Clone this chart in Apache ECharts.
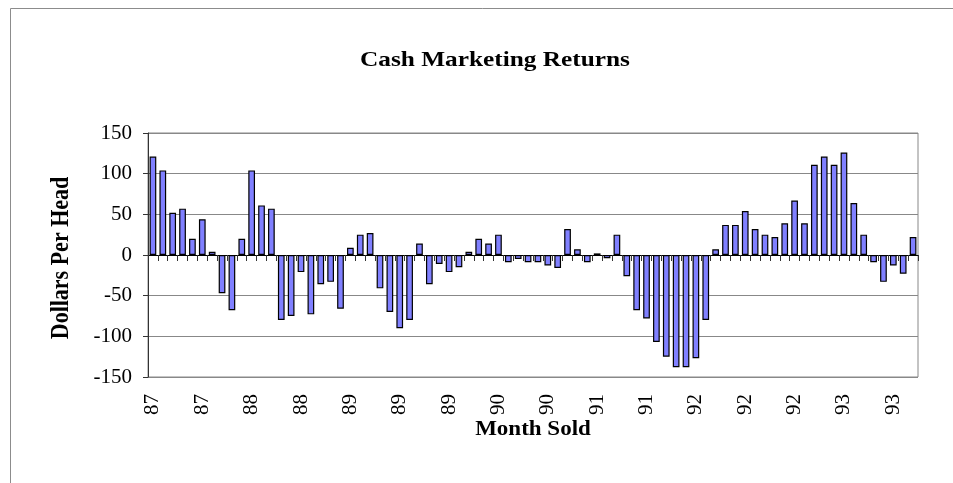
<!DOCTYPE html>
<html>
<head>
<meta charset="utf-8">
<script src="https://cdn.jsdelivr.net/npm/echarts@6/dist/echarts.min.js"></script>
<style>html,body{margin:0;padding:0;background:#fff;}#c{width:953px;height:483px;}</style>
</head>
<body>
<div id="c"></div>
<script>
var titleText = 'Cash Marketing Returns';
var xName = 'Month Sold';
var yName = 'Dollars Per Head';
// Month sold, June 1987 .. November 1993 (two-digit year shown)
var categories = [
 '87','87','87','87','87','87','87',
 '88','88','88','88','88','88','88','88','88','88','88','88',
 '89','89','89','89','89','89','89','89','89','89','89','89',
 '90','90','90','90','90','90','90','90','90','90','90','90',
 '91','91','91','91','91','91','91','91','91','91','91','91',
 '92','92','92','92','92','92','92','92','92','92','92','92',
 '93','93','93','93','93','93','93','93','93','93','93'
];
var returns = [
 121,104,52,57,20,44,4,-47,-68,20,
 104,61,57,-80,-75,-21,-73,-36,-33,-66,
 9,25,27,-41,-70,-90,-80,14,-36,-11,
 -21,-15,4,20,14,25,-9,-5,-9,-9,
 -13,-16,32,7,-9,2,-4,25,-26,-68,
 -78,-107,-125,-138,-138,-127,-80,7,37,37,
 54,32,25,22,39,67,39,111,121,111,
 126,64,25,-9,-33,-13,-23,22
];
var yMin = -150, yMax = 150, yStep = 50;
var labelEvery = 5;

var serif = "'Liberation Serif','Times New Roman',serif";
var chart = echarts.init(document.getElementById('c'));
chart.setOption({
  animation: false,
  backgroundColor: '#ffffff',
  grid: { left: 148, top: 133, width: 770, height: 244, show: true, borderColor: '#888', borderWidth: 1 },
  graphic: [
    { type: 'rect', shape: { x: 10.5, y: 8.5, width: 1200, height: 1200 }, style: { fill: 'none', stroke: '#8c8c8c', lineWidth: 1 }, silent: true },
    { type: 'text', x: 495, y: 60, scaleX: 1.15, style: { text: titleText, font: 'bold 22px ' + serif, fill: '#000', textAlign: 'center', textVerticalAlign: 'middle' } },
    { type: 'text', x: 533, y: 430, scaleX: 1.15, style: { text: xName, font: 'bold 20px ' + serif, fill: '#000', textAlign: 'center', textVerticalAlign: 'middle' } },
    { type: 'text', x: 62, y: 258, rotation: Math.PI / 2, scaleY: 1.1, style: { text: yName, font: 'bold 22px ' + serif, fill: '#000', textAlign: 'center', textVerticalAlign: 'middle' } }
  ],
  xAxis: [
    {
      type: 'category', data: categories, boundaryGap: true,
      axisLine: { show: true, onZero: true, lineStyle: { color: '#000', width: 1 } },
      axisTick: { show: true, interval: 0, length: 6, inside: false, lineStyle: { color: '#333' } },
      axisLabel: { show: false },
      splitLine: { show: false }
    },
    {
      type: 'category', data: categories, boundaryGap: true, position: 'bottom',
      axisLine: { show: false, onZero: false },
      axisTick: { show: false },
      axisLabel: { show: true, interval: labelEvery - 1, rotate: 90, margin: 17, fontSize: 21, fontFamily: serif, color: '#000' },
      splitLine: { show: false }
    }
  ],
  yAxis: {
    type: 'value', min: yMin, max: yMax, interval: yStep,
    axisLine: { show: true, lineStyle: { color: '#333', width: 1 } },
    axisTick: { show: true, length: 5, lineStyle: { color: '#333' } },
    axisLabel: { fontSize: 21, fontFamily: serif, color: '#000', margin: 16 },
    splitLine: { show: true, lineStyle: { color: '#888', width: 1 } }
  },
  series: [{
    type: 'bar', xAxisIndex: 0, data: returns, barWidth: '68%',
    itemStyle: { color: '#8080ff', borderColor: '#000', borderWidth: 1.2 }
  }]
});
</script>
</body>
</html>
